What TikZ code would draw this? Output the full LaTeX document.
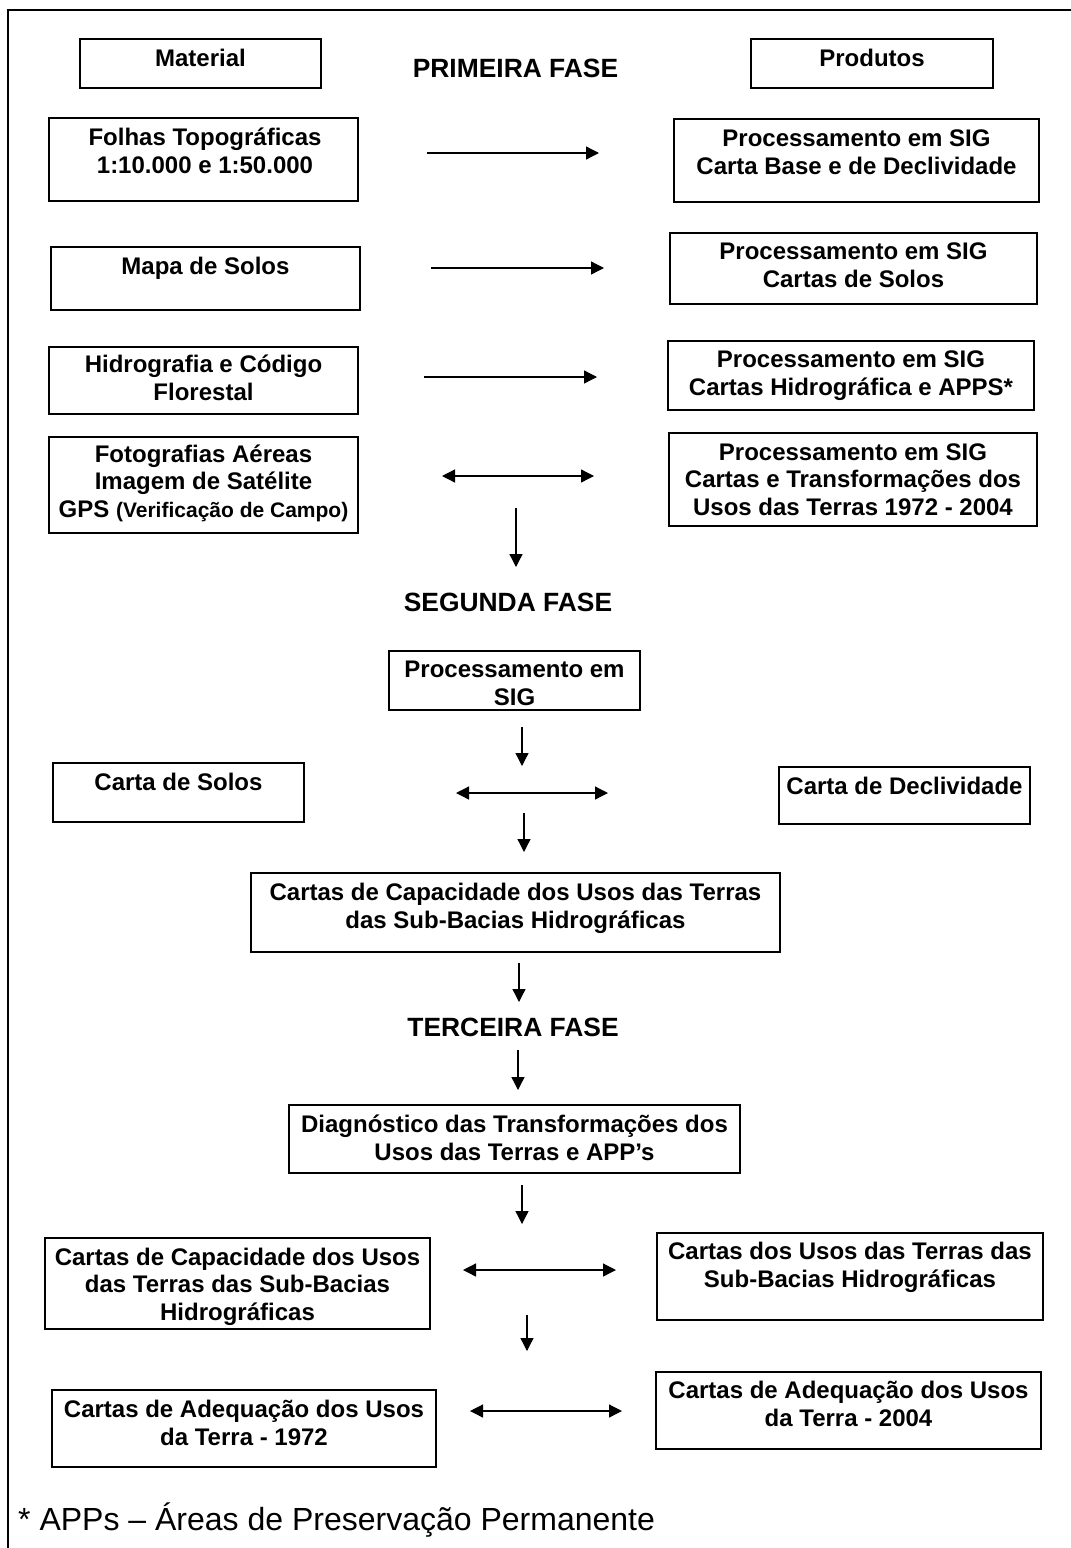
\documentclass[tikz,border=0pt]{standalone}
\usepackage{fontspec}
\setmainfont{Liberation Sans}
\usetikzlibrary{arrows.meta}
\begin{document}
\begin{tikzpicture}[x=1pt,y=-1pt,
  box/.style={draw, line width=1.8pt, rectangle, inner sep=0pt},
  txt/.style={font=\fontsize{24}{27.5}\selectfont\bfseries, align=center, inner sep=0pt, anchor=base},
  phase/.style={font=\fontsize{26.4}{30}\selectfont\bfseries, inner sep=0pt, anchor=base},
  conn/.style={line width=1.3pt, -{Triangle[length=13pt,width=13pt]}},
  dconn/.style={line width=1.3pt, {Triangle[length=13pt,width=13pt]}-{Triangle[length=13pt,width=13pt]}}
]
\useasboundingbox (0,0) rectangle (1071,1548);
\clip (0,0) rectangle (1071,1548);
\draw[line width=2pt] (7.5,10) rectangle (1090,1570);

% ---------- PRIMEIRA FASE ----------
\node[box, minimum width=241pt, minimum height=49pt] (mat) at (200.5,63.5) {};
\node[txt] (matT) at (200.5,66) {Material};
\node[box, minimum width=242pt, minimum height=49pt] (prod) at (872,63.5) {};
\node[txt] (prodT) at (872,66) {Produtos};
\node[phase] (fase1) at (515.5,77) {PRIMEIRA FASE};

\node[box, minimum width=309pt, minimum height=83pt] (f1) at (203.5,159.5) {};
\node[txt] (f1T) at (205,173) {Folhas Topográficas\\1:10.000 e 1:50.000};
\node[box, minimum width=365pt, minimum height=83pt] (p1) at (856.5,160.5) {};
\node[txt] (p1T) at (856.5,174) {Processamento em SIG\\Carta Base e de Declividade};

\node[box, minimum width=309pt, minimum height=63pt] (f2) at (205.5,278.5) {};
\node[txt] (f2T) at (205.5,274) {Mapa de Solos};
\node[box, minimum width=367pt, minimum height=71pt] (p2) at (853.5,268.5) {};
\node[txt] (p2T) at (853.5,287) {Processamento em SIG\\Cartas de Solos};

\node[box, minimum width=309pt, minimum height=67pt] (f3) at (203.5,380.5) {};
\node[txt] (f3T) at (203.5,400) {Hidrografia e Código\\Florestal};
\node[box, minimum width=366pt, minimum height=69pt] (p3) at (851,375.5) {};
\node[txt] (p3T) at (851,395) {Processamento em SIG\\Cartas Hidrográfica e APPS*};

\node[box, minimum width=309pt, minimum height=96pt] (f4) at (203.5,485) {};
\node[txt] (f4T) at (203.5,517) {Fotografias Aéreas\\Imagem de Satélite\\GPS {\fontsize{21}{27.5}\selectfont(Verificação de Campo)}};
\node[box, minimum width=368pt, minimum height=93pt] (p4) at (853,479.5) {};
\node[txt] (p4T) at (853,515) {Processamento em SIG\\Cartas e Transformações dos\\Usos das Terras 1972 - 2004};

\coordinate (a1s) at (427,153); \coordinate (a1e) at (599,153);
\coordinate (a2s) at (431,268); \coordinate (a2e) at (604,268);
\coordinate (a3s) at (424,377); \coordinate (a3e) at (597,377);
\coordinate (a4s) at (442,476); \coordinate (a4e) at (594,476);
\draw[conn] (a1s) -- (a1e);
\draw[conn] (a2s) -- (a2e);
\draw[conn] (a3s) -- (a3e);
\draw[dconn] (a4s) -- (a4e);
\coordinate (d1s) at (516,508); \coordinate (d1e) at (516,567);
\draw[conn] (d1s) -- (d1e);

% ---------- SEGUNDA FASE ----------
\node[phase] (fase2) at (508,611) {SEGUNDA FASE};
\node[box, minimum width=251pt, minimum height=59pt] (psig) at (514.5,680.5) {};
\node[txt] (psigT) at (514.5,705) {Processamento em\\SIG};
\coordinate (d2s) at (522,727); \coordinate (d2e) at (522,766);
\draw[conn] (d2s) -- (d2e);
\node[box, minimum width=251pt, minimum height=59pt] (csol) at (178.5,792.5) {};
\node[txt] (csolT) at (178.5,790) {Carta de Solos};
\node[box, minimum width=251pt, minimum height=57pt] (cdec) at (904.5,795.5) {};
\node[txt] (cdecT) at (904.5,794) {Carta de Declividade};
\coordinate (b2s) at (456,793); \coordinate (b2e) at (608,793);
\draw[dconn] (b2s) -- (b2e);
\coordinate (d3s) at (524,813); \coordinate (d3e) at (524,852);
\draw[conn] (d3s) -- (d3e);
\node[box, minimum width=529pt, minimum height=79pt] (ccap) at (515.5,912.5) {};
\node[txt] (ccapT) at (515.5,928) {Cartas de Capacidade dos Usos das Terras\\das Sub-Bacias Hidrográficas};
\coordinate (d4s) at (519,963); \coordinate (d4e) at (519,1002);
\draw[conn] (d4s) -- (d4e);

% ---------- TERCEIRA FASE ----------
\node[phase] (fase3) at (513,1036) {TERCEIRA FASE};
\coordinate (d5s) at (518,1050); \coordinate (d5e) at (518,1090);
\draw[conn] (d5s) -- (d5e);
\node[box, minimum width=451pt, minimum height=68pt] (diag) at (514.5,1139) {};
\node[txt] (diagT) at (514.5,1160) {Diagnóstico das Transformações dos\\Usos das Terras e APP’s};
\coordinate (d6s) at (522,1185); \coordinate (d6e) at (522,1224);
\draw[conn] (d6s) -- (d6e);
\node[box, minimum width=385pt, minimum height=91pt] (ccap2) at (237.5,1283.5) {};
\node[txt] (ccap2T) at (237.5,1320) {Cartas de Capacidade dos Usos\\das Terras das Sub-Bacias\\Hidrográficas};
\node[box, minimum width=386pt, minimum height=87pt] (cusos) at (850,1276.5) {};
\node[txt] (cusosT) at (850,1287) {Cartas dos Usos das Terras das\\Sub-Bacias Hidrográficas};
\coordinate (b3s) at (463,1270); \coordinate (b3e) at (616,1270);
\draw[dconn] (b3s) -- (b3e);
\coordinate (d7s) at (527,1315); \coordinate (d7e) at (527,1351);
\draw[conn] (d7s) -- (d7e);
\node[box, minimum width=384pt, minimum height=77pt] (cad72) at (244,1428.5) {};
\node[txt] (cad72T) at (244,1445) {Cartas de Adequação dos Usos\\da Terra - 1972};
\node[box, minimum width=385pt, minimum height=77pt] (cad04) at (848.5,1410.5) {};
\node[txt] (cad04T) at (848.5,1426) {Cartas de Adequação dos Usos\\da Terra - 2004};
\coordinate (b4s) at (470,1411); \coordinate (b4e) at (622,1411);
\draw[dconn] (b4s) -- (b4e);

\node[font=\fontsize{32}{36}\selectfont, anchor=base west, inner sep=0pt] (note) at (18,1530) {* APPs – Áreas de Preservação Permanente};
\end{tikzpicture}
\end{document}
